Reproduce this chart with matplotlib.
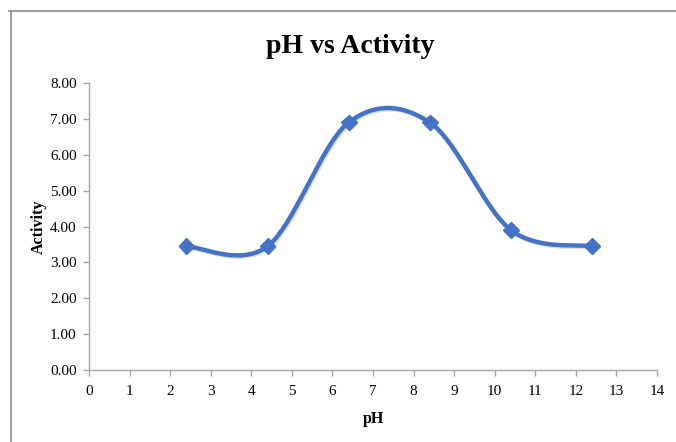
import numpy as np
import matplotlib
matplotlib.use("Agg")
import matplotlib.pyplot as plt
import matplotlib.patheffects as pe
from matplotlib.lines import Line2D

ph = [2.4, 4.4, 6.4, 8.4, 10.4, 12.4]
activity = [3.45, 3.45, 6.9, 6.9, 3.9, 3.45]
xticks = list(range(0, 15))
yticks = [0, 1, 2, 3, 4, 5, 6, 7, 8]

plt.rcParams["font.family"] = ["Liberation Serif", "DejaVu Serif"]
BLUE = "#4472C4"
GREY = "#a6a6a6"


def smooth(xs, ys, n=40):
    # Excel-like smoothed line: cubic Bezier with Catmull-Rom control points
    p = np.column_stack([xs, ys]).astype(float)
    ext = np.vstack([p[0], p, p[-1]])
    out = []
    t = np.linspace(0, 1, n)[:, None]
    for i in range(len(p) - 1):
        p0, p1, p2, p3 = ext[i], ext[i + 1], ext[i + 2], ext[i + 3]
        c1 = p1 + (p2 - p0) / 6
        c2 = p2 - (p3 - p1) / 6
        seg = ((1 - t) ** 3) * p1 + 3 * ((1 - t) ** 2) * t * c1 \
            + 3 * (1 - t) * t ** 2 * c2 + t ** 3 * p2
        out.append(seg if i == 0 else seg[1:])
    s = np.vstack(out)
    return s[:, 0], s[:, 1]


fig = plt.figure(figsize=(6.76, 4.42), dpi=100)
ax = fig.add_axes([0.1317, 0.1629, 0.8402, 0.6493])

sx, sy = smooth(ph, activity)
shadow = [pe.SimpleLineShadow(offset=(1, -1), alpha=0.12, shadow_color="black"), pe.Normal()]
ax.plot(sx, sy, color=BLUE, lw=3.2, solid_capstyle="round", path_effects=shadow, zorder=3)
ax.plot(ph, activity, linestyle="none", marker="D", ms=8, color=BLUE,
        mec=BLUE, zorder=4,
        path_effects=[pe.SimplePatchShadow(offset=(1, -1), alpha=0.2), pe.Normal()])

ax.set_xlim(0, 14)
ax.set_ylim(0, 8)
ax.set_xticks(xticks)
ax.set_yticks(yticks)
ax.set_yticklabels([f"{v:.2f}" for v in yticks])
ax.tick_params(axis="both", colors=GREY, labelcolor="black", labelsize=11,
               length=4, width=1)
ax.tick_params(axis="x", pad=7)
ax.tick_params(axis="y", pad=5)
for s in ("top", "right"):
    ax.spines[s].set_visible(False)
for s in ("left", "bottom"):
    ax.spines[s].set_color(GREY)
    ax.spines[s].set_linewidth(1)

ax.set_xlabel("pH", fontsize=11.5, fontweight="bold", labelpad=9)
ax.set_ylabel("Activity", fontsize=11.5, fontweight="bold", labelpad=2)
fig.text(0.518, 0.895, "pH vs Activity", ha="center", va="center",
         fontsize=20, fontweight="bold")

# chart frame (only top and left edges visible in the crop)
fig.add_artist(Line2D([9 / 676, 1], [1 - 11 / 442] * 2, color="#8c8c8c", lw=1.2))
fig.add_artist(Line2D([11 / 676] * 2, [0, 1 - 11 / 442], color="#8c8c8c", lw=1.2))

fig.savefig("out.png", dpi=100)
